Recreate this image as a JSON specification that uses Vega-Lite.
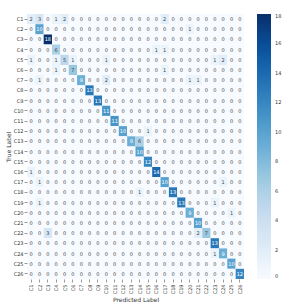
{
"$schema": "https://vega.github.io/schema/vega-lite/v6.json",
"width": 217, "height": 265,
"autosize": {"type": "none"},
"padding": {"left": 27, "top": 14, "right": 45, "bottom": 29},
"background": "white",
"config": {"font": "DejaVu Sans", "view": {"stroke": null}},
"data": {"values": [
{"t":"C1","p":"C1","v":2},{"t":"C1","p":"C2","v":3},{"t":"C1","p":"C3","v":0},{"t":"C1","p":"C4","v":1},{"t":"C1","p":"C5","v":2},{"t":"C1","p":"C6","v":0},{"t":"C1","p":"C7","v":0},{"t":"C1","p":"C8","v":0},{"t":"C1","p":"C9","v":0},{"t":"C1","p":"C10","v":0},{"t":"C1","p":"C11","v":0},{"t":"C1","p":"C12","v":0},{"t":"C1","p":"C13","v":0},{"t":"C1","p":"C14","v":0},{"t":"C1","p":"C15","v":0},{"t":"C1","p":"C16","v":0},{"t":"C1","p":"C17","v":2},{"t":"C1","p":"C18","v":0},{"t":"C1","p":"C19","v":0},{"t":"C1","p":"C20","v":0},{"t":"C1","p":"C21","v":0},{"t":"C1","p":"C22","v":0},{"t":"C1","p":"C23","v":0},{"t":"C1","p":"C24","v":0},{"t":"C1","p":"C25","v":0},{"t":"C1","p":"C26","v":0},
{"t":"C2","p":"C1","v":0},{"t":"C2","p":"C2","v":10},{"t":"C2","p":"C3","v":0},{"t":"C2","p":"C4","v":0},{"t":"C2","p":"C5","v":0},{"t":"C2","p":"C6","v":0},{"t":"C2","p":"C7","v":0},{"t":"C2","p":"C8","v":0},{"t":"C2","p":"C9","v":0},{"t":"C2","p":"C10","v":0},{"t":"C2","p":"C11","v":0},{"t":"C2","p":"C12","v":0},{"t":"C2","p":"C13","v":0},{"t":"C2","p":"C14","v":0},{"t":"C2","p":"C15","v":0},{"t":"C2","p":"C16","v":0},{"t":"C2","p":"C17","v":0},{"t":"C2","p":"C18","v":0},{"t":"C2","p":"C19","v":0},{"t":"C2","p":"C20","v":1},{"t":"C2","p":"C21","v":0},{"t":"C2","p":"C22","v":0},{"t":"C2","p":"C23","v":0},{"t":"C2","p":"C24","v":0},{"t":"C2","p":"C25","v":0},{"t":"C2","p":"C26","v":0},
{"t":"C3","p":"C1","v":0},{"t":"C3","p":"C2","v":0},{"t":"C3","p":"C3","v":18},{"t":"C3","p":"C4","v":0},{"t":"C3","p":"C5","v":0},{"t":"C3","p":"C6","v":0},{"t":"C3","p":"C7","v":0},{"t":"C3","p":"C8","v":0},{"t":"C3","p":"C9","v":0},{"t":"C3","p":"C10","v":0},{"t":"C3","p":"C11","v":0},{"t":"C3","p":"C12","v":0},{"t":"C3","p":"C13","v":0},{"t":"C3","p":"C14","v":0},{"t":"C3","p":"C15","v":0},{"t":"C3","p":"C16","v":0},{"t":"C3","p":"C17","v":0},{"t":"C3","p":"C18","v":0},{"t":"C3","p":"C19","v":0},{"t":"C3","p":"C20","v":0},{"t":"C3","p":"C21","v":0},{"t":"C3","p":"C22","v":0},{"t":"C3","p":"C23","v":0},{"t":"C3","p":"C24","v":0},{"t":"C3","p":"C25","v":0},{"t":"C3","p":"C26","v":0},
{"t":"C4","p":"C1","v":0},{"t":"C4","p":"C2","v":0},{"t":"C4","p":"C3","v":0},{"t":"C4","p":"C4","v":6},{"t":"C4","p":"C5","v":0},{"t":"C4","p":"C6","v":0},{"t":"C4","p":"C7","v":0},{"t":"C4","p":"C8","v":0},{"t":"C4","p":"C9","v":0},{"t":"C4","p":"C10","v":0},{"t":"C4","p":"C11","v":0},{"t":"C4","p":"C12","v":0},{"t":"C4","p":"C13","v":0},{"t":"C4","p":"C14","v":0},{"t":"C4","p":"C15","v":0},{"t":"C4","p":"C16","v":1},{"t":"C4","p":"C17","v":1},{"t":"C4","p":"C18","v":0},{"t":"C4","p":"C19","v":0},{"t":"C4","p":"C20","v":0},{"t":"C4","p":"C21","v":0},{"t":"C4","p":"C22","v":0},{"t":"C4","p":"C23","v":0},{"t":"C4","p":"C24","v":0},{"t":"C4","p":"C25","v":0},{"t":"C4","p":"C26","v":0},
{"t":"C5","p":"C1","v":1},{"t":"C5","p":"C2","v":0},{"t":"C5","p":"C3","v":0},{"t":"C5","p":"C4","v":1},{"t":"C5","p":"C5","v":5},{"t":"C5","p":"C6","v":1},{"t":"C5","p":"C7","v":0},{"t":"C5","p":"C8","v":0},{"t":"C5","p":"C9","v":0},{"t":"C5","p":"C10","v":1},{"t":"C5","p":"C11","v":0},{"t":"C5","p":"C12","v":0},{"t":"C5","p":"C13","v":0},{"t":"C5","p":"C14","v":0},{"t":"C5","p":"C15","v":0},{"t":"C5","p":"C16","v":0},{"t":"C5","p":"C17","v":0},{"t":"C5","p":"C18","v":0},{"t":"C5","p":"C19","v":0},{"t":"C5","p":"C20","v":0},{"t":"C5","p":"C21","v":0},{"t":"C5","p":"C22","v":0},{"t":"C5","p":"C23","v":1},{"t":"C5","p":"C24","v":2},{"t":"C5","p":"C25","v":0},{"t":"C5","p":"C26","v":0},
{"t":"C6","p":"C1","v":0},{"t":"C6","p":"C2","v":0},{"t":"C6","p":"C3","v":0},{"t":"C6","p":"C4","v":1},{"t":"C6","p":"C5","v":0},{"t":"C6","p":"C6","v":7},{"t":"C6","p":"C7","v":0},{"t":"C6","p":"C8","v":0},{"t":"C6","p":"C9","v":0},{"t":"C6","p":"C10","v":0},{"t":"C6","p":"C11","v":0},{"t":"C6","p":"C12","v":0},{"t":"C6","p":"C13","v":0},{"t":"C6","p":"C14","v":0},{"t":"C6","p":"C15","v":0},{"t":"C6","p":"C16","v":0},{"t":"C6","p":"C17","v":1},{"t":"C6","p":"C18","v":0},{"t":"C6","p":"C19","v":0},{"t":"C6","p":"C20","v":0},{"t":"C6","p":"C21","v":0},{"t":"C6","p":"C22","v":0},{"t":"C6","p":"C23","v":0},{"t":"C6","p":"C24","v":0},{"t":"C6","p":"C25","v":0},{"t":"C6","p":"C26","v":0},
{"t":"C7","p":"C1","v":0},{"t":"C7","p":"C2","v":1},{"t":"C7","p":"C3","v":0},{"t":"C7","p":"C4","v":0},{"t":"C7","p":"C5","v":0},{"t":"C7","p":"C6","v":0},{"t":"C7","p":"C7","v":9},{"t":"C7","p":"C8","v":0},{"t":"C7","p":"C9","v":0},{"t":"C7","p":"C10","v":2},{"t":"C7","p":"C11","v":0},{"t":"C7","p":"C12","v":0},{"t":"C7","p":"C13","v":0},{"t":"C7","p":"C14","v":0},{"t":"C7","p":"C15","v":0},{"t":"C7","p":"C16","v":0},{"t":"C7","p":"C17","v":0},{"t":"C7","p":"C18","v":0},{"t":"C7","p":"C19","v":0},{"t":"C7","p":"C20","v":1},{"t":"C7","p":"C21","v":1},{"t":"C7","p":"C22","v":0},{"t":"C7","p":"C23","v":0},{"t":"C7","p":"C24","v":0},{"t":"C7","p":"C25","v":0},{"t":"C7","p":"C26","v":0},
{"t":"C8","p":"C1","v":0},{"t":"C8","p":"C2","v":0},{"t":"C8","p":"C3","v":0},{"t":"C8","p":"C4","v":0},{"t":"C8","p":"C5","v":0},{"t":"C8","p":"C6","v":0},{"t":"C8","p":"C7","v":0},{"t":"C8","p":"C8","v":13},{"t":"C8","p":"C9","v":0},{"t":"C8","p":"C10","v":0},{"t":"C8","p":"C11","v":0},{"t":"C8","p":"C12","v":0},{"t":"C8","p":"C13","v":0},{"t":"C8","p":"C14","v":0},{"t":"C8","p":"C15","v":0},{"t":"C8","p":"C16","v":0},{"t":"C8","p":"C17","v":0},{"t":"C8","p":"C18","v":0},{"t":"C8","p":"C19","v":0},{"t":"C8","p":"C20","v":0},{"t":"C8","p":"C21","v":0},{"t":"C8","p":"C22","v":0},{"t":"C8","p":"C23","v":0},{"t":"C8","p":"C24","v":0},{"t":"C8","p":"C25","v":0},{"t":"C8","p":"C26","v":0},
{"t":"C9","p":"C1","v":0},{"t":"C9","p":"C2","v":0},{"t":"C9","p":"C3","v":0},{"t":"C9","p":"C4","v":0},{"t":"C9","p":"C5","v":0},{"t":"C9","p":"C6","v":0},{"t":"C9","p":"C7","v":0},{"t":"C9","p":"C8","v":0},{"t":"C9","p":"C9","v":13},{"t":"C9","p":"C10","v":0},{"t":"C9","p":"C11","v":0},{"t":"C9","p":"C12","v":0},{"t":"C9","p":"C13","v":0},{"t":"C9","p":"C14","v":0},{"t":"C9","p":"C15","v":0},{"t":"C9","p":"C16","v":0},{"t":"C9","p":"C17","v":0},{"t":"C9","p":"C18","v":0},{"t":"C9","p":"C19","v":0},{"t":"C9","p":"C20","v":0},{"t":"C9","p":"C21","v":0},{"t":"C9","p":"C22","v":0},{"t":"C9","p":"C23","v":0},{"t":"C9","p":"C24","v":0},{"t":"C9","p":"C25","v":0},{"t":"C9","p":"C26","v":0},
{"t":"C10","p":"C1","v":0},{"t":"C10","p":"C2","v":0},{"t":"C10","p":"C3","v":0},{"t":"C10","p":"C4","v":0},{"t":"C10","p":"C5","v":0},{"t":"C10","p":"C6","v":0},{"t":"C10","p":"C7","v":0},{"t":"C10","p":"C8","v":0},{"t":"C10","p":"C9","v":0},{"t":"C10","p":"C10","v":11},{"t":"C10","p":"C11","v":0},{"t":"C10","p":"C12","v":0},{"t":"C10","p":"C13","v":0},{"t":"C10","p":"C14","v":0},{"t":"C10","p":"C15","v":0},{"t":"C10","p":"C16","v":0},{"t":"C10","p":"C17","v":0},{"t":"C10","p":"C18","v":0},{"t":"C10","p":"C19","v":0},{"t":"C10","p":"C20","v":0},{"t":"C10","p":"C21","v":0},{"t":"C10","p":"C22","v":0},{"t":"C10","p":"C23","v":0},{"t":"C10","p":"C24","v":0},{"t":"C10","p":"C25","v":0},{"t":"C10","p":"C26","v":0},
{"t":"C11","p":"C1","v":0},{"t":"C11","p":"C2","v":0},{"t":"C11","p":"C3","v":0},{"t":"C11","p":"C4","v":0},{"t":"C11","p":"C5","v":0},{"t":"C11","p":"C6","v":0},{"t":"C11","p":"C7","v":0},{"t":"C11","p":"C8","v":0},{"t":"C11","p":"C9","v":0},{"t":"C11","p":"C10","v":0},{"t":"C11","p":"C11","v":11},{"t":"C11","p":"C12","v":0},{"t":"C11","p":"C13","v":0},{"t":"C11","p":"C14","v":0},{"t":"C11","p":"C15","v":0},{"t":"C11","p":"C16","v":0},{"t":"C11","p":"C17","v":0},{"t":"C11","p":"C18","v":0},{"t":"C11","p":"C19","v":0},{"t":"C11","p":"C20","v":0},{"t":"C11","p":"C21","v":0},{"t":"C11","p":"C22","v":0},{"t":"C11","p":"C23","v":0},{"t":"C11","p":"C24","v":0},{"t":"C11","p":"C25","v":0},{"t":"C11","p":"C26","v":0},
{"t":"C12","p":"C1","v":0},{"t":"C12","p":"C2","v":0},{"t":"C12","p":"C3","v":0},{"t":"C12","p":"C4","v":0},{"t":"C12","p":"C5","v":0},{"t":"C12","p":"C6","v":0},{"t":"C12","p":"C7","v":0},{"t":"C12","p":"C8","v":0},{"t":"C12","p":"C9","v":0},{"t":"C12","p":"C10","v":0},{"t":"C12","p":"C11","v":0},{"t":"C12","p":"C12","v":10},{"t":"C12","p":"C13","v":0},{"t":"C12","p":"C14","v":0},{"t":"C12","p":"C15","v":1},{"t":"C12","p":"C16","v":0},{"t":"C12","p":"C17","v":0},{"t":"C12","p":"C18","v":0},{"t":"C12","p":"C19","v":0},{"t":"C12","p":"C20","v":0},{"t":"C12","p":"C21","v":0},{"t":"C12","p":"C22","v":0},{"t":"C12","p":"C23","v":0},{"t":"C12","p":"C24","v":0},{"t":"C12","p":"C25","v":0},{"t":"C12","p":"C26","v":0},
{"t":"C13","p":"C1","v":0},{"t":"C13","p":"C2","v":0},{"t":"C13","p":"C3","v":0},{"t":"C13","p":"C4","v":0},{"t":"C13","p":"C5","v":0},{"t":"C13","p":"C6","v":0},{"t":"C13","p":"C7","v":0},{"t":"C13","p":"C8","v":0},{"t":"C13","p":"C9","v":0},{"t":"C13","p":"C10","v":0},{"t":"C13","p":"C11","v":0},{"t":"C13","p":"C12","v":0},{"t":"C13","p":"C13","v":9},{"t":"C13","p":"C14","v":6},{"t":"C13","p":"C15","v":0},{"t":"C13","p":"C16","v":0},{"t":"C13","p":"C17","v":0},{"t":"C13","p":"C18","v":0},{"t":"C13","p":"C19","v":0},{"t":"C13","p":"C20","v":0},{"t":"C13","p":"C21","v":0},{"t":"C13","p":"C22","v":0},{"t":"C13","p":"C23","v":0},{"t":"C13","p":"C24","v":0},{"t":"C13","p":"C25","v":0},{"t":"C13","p":"C26","v":0},
{"t":"C14","p":"C1","v":0},{"t":"C14","p":"C2","v":0},{"t":"C14","p":"C3","v":0},{"t":"C14","p":"C4","v":0},{"t":"C14","p":"C5","v":0},{"t":"C14","p":"C6","v":0},{"t":"C14","p":"C7","v":0},{"t":"C14","p":"C8","v":0},{"t":"C14","p":"C9","v":0},{"t":"C14","p":"C10","v":0},{"t":"C14","p":"C11","v":0},{"t":"C14","p":"C12","v":0},{"t":"C14","p":"C13","v":0},{"t":"C14","p":"C14","v":10},{"t":"C14","p":"C15","v":0},{"t":"C14","p":"C16","v":0},{"t":"C14","p":"C17","v":0},{"t":"C14","p":"C18","v":0},{"t":"C14","p":"C19","v":0},{"t":"C14","p":"C20","v":0},{"t":"C14","p":"C21","v":0},{"t":"C14","p":"C22","v":0},{"t":"C14","p":"C23","v":0},{"t":"C14","p":"C24","v":0},{"t":"C14","p":"C25","v":0},{"t":"C14","p":"C26","v":0},
{"t":"C15","p":"C1","v":0},{"t":"C15","p":"C2","v":0},{"t":"C15","p":"C3","v":0},{"t":"C15","p":"C4","v":0},{"t":"C15","p":"C5","v":0},{"t":"C15","p":"C6","v":0},{"t":"C15","p":"C7","v":0},{"t":"C15","p":"C8","v":0},{"t":"C15","p":"C9","v":0},{"t":"C15","p":"C10","v":0},{"t":"C15","p":"C11","v":0},{"t":"C15","p":"C12","v":0},{"t":"C15","p":"C13","v":0},{"t":"C15","p":"C14","v":0},{"t":"C15","p":"C15","v":12},{"t":"C15","p":"C16","v":0},{"t":"C15","p":"C17","v":0},{"t":"C15","p":"C18","v":0},{"t":"C15","p":"C19","v":0},{"t":"C15","p":"C20","v":0},{"t":"C15","p":"C21","v":0},{"t":"C15","p":"C22","v":0},{"t":"C15","p":"C23","v":0},{"t":"C15","p":"C24","v":0},{"t":"C15","p":"C25","v":0},{"t":"C15","p":"C26","v":0},
{"t":"C16","p":"C1","v":1},{"t":"C16","p":"C2","v":0},{"t":"C16","p":"C3","v":0},{"t":"C16","p":"C4","v":0},{"t":"C16","p":"C5","v":0},{"t":"C16","p":"C6","v":0},{"t":"C16","p":"C7","v":0},{"t":"C16","p":"C8","v":0},{"t":"C16","p":"C9","v":0},{"t":"C16","p":"C10","v":0},{"t":"C16","p":"C11","v":0},{"t":"C16","p":"C12","v":0},{"t":"C16","p":"C13","v":0},{"t":"C16","p":"C14","v":0},{"t":"C16","p":"C15","v":0},{"t":"C16","p":"C16","v":14},{"t":"C16","p":"C17","v":0},{"t":"C16","p":"C18","v":0},{"t":"C16","p":"C19","v":0},{"t":"C16","p":"C20","v":0},{"t":"C16","p":"C21","v":0},{"t":"C16","p":"C22","v":0},{"t":"C16","p":"C23","v":0},{"t":"C16","p":"C24","v":0},{"t":"C16","p":"C25","v":0},{"t":"C16","p":"C26","v":0},
{"t":"C17","p":"C1","v":0},{"t":"C17","p":"C2","v":1},{"t":"C17","p":"C3","v":0},{"t":"C17","p":"C4","v":0},{"t":"C17","p":"C5","v":0},{"t":"C17","p":"C6","v":0},{"t":"C17","p":"C7","v":0},{"t":"C17","p":"C8","v":0},{"t":"C17","p":"C9","v":0},{"t":"C17","p":"C10","v":0},{"t":"C17","p":"C11","v":0},{"t":"C17","p":"C12","v":0},{"t":"C17","p":"C13","v":0},{"t":"C17","p":"C14","v":0},{"t":"C17","p":"C15","v":0},{"t":"C17","p":"C16","v":0},{"t":"C17","p":"C17","v":10},{"t":"C17","p":"C18","v":0},{"t":"C17","p":"C19","v":0},{"t":"C17","p":"C20","v":0},{"t":"C17","p":"C21","v":0},{"t":"C17","p":"C22","v":0},{"t":"C17","p":"C23","v":0},{"t":"C17","p":"C24","v":1},{"t":"C17","p":"C25","v":0},{"t":"C17","p":"C26","v":0},
{"t":"C18","p":"C1","v":0},{"t":"C18","p":"C2","v":0},{"t":"C18","p":"C3","v":0},{"t":"C18","p":"C4","v":0},{"t":"C18","p":"C5","v":0},{"t":"C18","p":"C6","v":0},{"t":"C18","p":"C7","v":0},{"t":"C18","p":"C8","v":0},{"t":"C18","p":"C9","v":0},{"t":"C18","p":"C10","v":0},{"t":"C18","p":"C11","v":0},{"t":"C18","p":"C12","v":0},{"t":"C18","p":"C13","v":0},{"t":"C18","p":"C14","v":1},{"t":"C18","p":"C15","v":0},{"t":"C18","p":"C16","v":0},{"t":"C18","p":"C17","v":0},{"t":"C18","p":"C18","v":13},{"t":"C18","p":"C19","v":0},{"t":"C18","p":"C20","v":0},{"t":"C18","p":"C21","v":0},{"t":"C18","p":"C22","v":0},{"t":"C18","p":"C23","v":0},{"t":"C18","p":"C24","v":0},{"t":"C18","p":"C25","v":0},{"t":"C18","p":"C26","v":0},
{"t":"C19","p":"C1","v":0},{"t":"C19","p":"C2","v":1},{"t":"C19","p":"C3","v":0},{"t":"C19","p":"C4","v":0},{"t":"C19","p":"C5","v":0},{"t":"C19","p":"C6","v":0},{"t":"C19","p":"C7","v":0},{"t":"C19","p":"C8","v":0},{"t":"C19","p":"C9","v":0},{"t":"C19","p":"C10","v":0},{"t":"C19","p":"C11","v":0},{"t":"C19","p":"C12","v":0},{"t":"C19","p":"C13","v":0},{"t":"C19","p":"C14","v":0},{"t":"C19","p":"C15","v":0},{"t":"C19","p":"C16","v":0},{"t":"C19","p":"C17","v":0},{"t":"C19","p":"C18","v":0},{"t":"C19","p":"C19","v":13},{"t":"C19","p":"C20","v":0},{"t":"C19","p":"C21","v":0},{"t":"C19","p":"C22","v":0},{"t":"C19","p":"C23","v":1},{"t":"C19","p":"C24","v":0},{"t":"C19","p":"C25","v":0},{"t":"C19","p":"C26","v":0},
{"t":"C20","p":"C1","v":0},{"t":"C20","p":"C2","v":0},{"t":"C20","p":"C3","v":0},{"t":"C20","p":"C4","v":0},{"t":"C20","p":"C5","v":0},{"t":"C20","p":"C6","v":0},{"t":"C20","p":"C7","v":0},{"t":"C20","p":"C8","v":0},{"t":"C20","p":"C9","v":0},{"t":"C20","p":"C10","v":0},{"t":"C20","p":"C11","v":0},{"t":"C20","p":"C12","v":0},{"t":"C20","p":"C13","v":0},{"t":"C20","p":"C14","v":0},{"t":"C20","p":"C15","v":0},{"t":"C20","p":"C16","v":0},{"t":"C20","p":"C17","v":0},{"t":"C20","p":"C18","v":0},{"t":"C20","p":"C19","v":0},{"t":"C20","p":"C20","v":9},{"t":"C20","p":"C21","v":0},{"t":"C20","p":"C22","v":0},{"t":"C20","p":"C23","v":0},{"t":"C20","p":"C24","v":0},{"t":"C20","p":"C25","v":1},{"t":"C20","p":"C26","v":0},
{"t":"C21","p":"C1","v":0},{"t":"C21","p":"C2","v":0},{"t":"C21","p":"C3","v":0},{"t":"C21","p":"C4","v":0},{"t":"C21","p":"C5","v":0},{"t":"C21","p":"C6","v":0},{"t":"C21","p":"C7","v":0},{"t":"C21","p":"C8","v":0},{"t":"C21","p":"C9","v":0},{"t":"C21","p":"C10","v":0},{"t":"C21","p":"C11","v":0},{"t":"C21","p":"C12","v":0},{"t":"C21","p":"C13","v":0},{"t":"C21","p":"C14","v":0},{"t":"C21","p":"C15","v":0},{"t":"C21","p":"C16","v":0},{"t":"C21","p":"C17","v":0},{"t":"C21","p":"C18","v":0},{"t":"C21","p":"C19","v":0},{"t":"C21","p":"C20","v":0},{"t":"C21","p":"C21","v":10},{"t":"C21","p":"C22","v":0},{"t":"C21","p":"C23","v":0},{"t":"C21","p":"C24","v":0},{"t":"C21","p":"C25","v":0},{"t":"C21","p":"C26","v":0},
{"t":"C22","p":"C1","v":0},{"t":"C22","p":"C2","v":0},{"t":"C22","p":"C3","v":3},{"t":"C22","p":"C4","v":0},{"t":"C22","p":"C5","v":0},{"t":"C22","p":"C6","v":0},{"t":"C22","p":"C7","v":0},{"t":"C22","p":"C8","v":0},{"t":"C22","p":"C9","v":0},{"t":"C22","p":"C10","v":0},{"t":"C22","p":"C11","v":0},{"t":"C22","p":"C12","v":0},{"t":"C22","p":"C13","v":0},{"t":"C22","p":"C14","v":0},{"t":"C22","p":"C15","v":0},{"t":"C22","p":"C16","v":0},{"t":"C22","p":"C17","v":0},{"t":"C22","p":"C18","v":0},{"t":"C22","p":"C19","v":0},{"t":"C22","p":"C20","v":0},{"t":"C22","p":"C21","v":2},{"t":"C22","p":"C22","v":7},{"t":"C22","p":"C23","v":0},{"t":"C22","p":"C24","v":0},{"t":"C22","p":"C25","v":0},{"t":"C22","p":"C26","v":0},
{"t":"C23","p":"C1","v":0},{"t":"C23","p":"C2","v":0},{"t":"C23","p":"C3","v":0},{"t":"C23","p":"C4","v":0},{"t":"C23","p":"C5","v":0},{"t":"C23","p":"C6","v":0},{"t":"C23","p":"C7","v":0},{"t":"C23","p":"C8","v":0},{"t":"C23","p":"C9","v":0},{"t":"C23","p":"C10","v":0},{"t":"C23","p":"C11","v":0},{"t":"C23","p":"C12","v":0},{"t":"C23","p":"C13","v":0},{"t":"C23","p":"C14","v":0},{"t":"C23","p":"C15","v":0},{"t":"C23","p":"C16","v":0},{"t":"C23","p":"C17","v":0},{"t":"C23","p":"C18","v":0},{"t":"C23","p":"C19","v":0},{"t":"C23","p":"C20","v":0},{"t":"C23","p":"C21","v":0},{"t":"C23","p":"C22","v":0},{"t":"C23","p":"C23","v":13},{"t":"C23","p":"C24","v":0},{"t":"C23","p":"C25","v":0},{"t":"C23","p":"C26","v":0},
{"t":"C24","p":"C1","v":0},{"t":"C24","p":"C2","v":0},{"t":"C24","p":"C3","v":0},{"t":"C24","p":"C4","v":0},{"t":"C24","p":"C5","v":0},{"t":"C24","p":"C6","v":0},{"t":"C24","p":"C7","v":0},{"t":"C24","p":"C8","v":0},{"t":"C24","p":"C9","v":0},{"t":"C24","p":"C10","v":0},{"t":"C24","p":"C11","v":0},{"t":"C24","p":"C12","v":0},{"t":"C24","p":"C13","v":0},{"t":"C24","p":"C14","v":0},{"t":"C24","p":"C15","v":0},{"t":"C24","p":"C16","v":0},{"t":"C24","p":"C17","v":0},{"t":"C24","p":"C18","v":0},{"t":"C24","p":"C19","v":0},{"t":"C24","p":"C20","v":0},{"t":"C24","p":"C21","v":0},{"t":"C24","p":"C22","v":0},{"t":"C24","p":"C23","v":1},{"t":"C24","p":"C24","v":9},{"t":"C24","p":"C25","v":0},{"t":"C24","p":"C26","v":0},
{"t":"C25","p":"C1","v":0},{"t":"C25","p":"C2","v":0},{"t":"C25","p":"C3","v":0},{"t":"C25","p":"C4","v":0},{"t":"C25","p":"C5","v":0},{"t":"C25","p":"C6","v":0},{"t":"C25","p":"C7","v":0},{"t":"C25","p":"C8","v":0},{"t":"C25","p":"C9","v":0},{"t":"C25","p":"C10","v":0},{"t":"C25","p":"C11","v":0},{"t":"C25","p":"C12","v":0},{"t":"C25","p":"C13","v":0},{"t":"C25","p":"C14","v":0},{"t":"C25","p":"C15","v":0},{"t":"C25","p":"C16","v":0},{"t":"C25","p":"C17","v":0},{"t":"C25","p":"C18","v":0},{"t":"C25","p":"C19","v":0},{"t":"C25","p":"C20","v":0},{"t":"C25","p":"C21","v":0},{"t":"C25","p":"C22","v":0},{"t":"C25","p":"C23","v":0},{"t":"C25","p":"C24","v":0},{"t":"C25","p":"C25","v":10},{"t":"C25","p":"C26","v":0},
{"t":"C26","p":"C1","v":0},{"t":"C26","p":"C2","v":0},{"t":"C26","p":"C3","v":0},{"t":"C26","p":"C4","v":0},{"t":"C26","p":"C5","v":0},{"t":"C26","p":"C6","v":0},{"t":"C26","p":"C7","v":0},{"t":"C26","p":"C8","v":0},{"t":"C26","p":"C9","v":0},{"t":"C26","p":"C10","v":0},{"t":"C26","p":"C11","v":0},{"t":"C26","p":"C12","v":0},{"t":"C26","p":"C13","v":0},{"t":"C26","p":"C14","v":0},{"t":"C26","p":"C15","v":0},{"t":"C26","p":"C16","v":0},{"t":"C26","p":"C17","v":0},{"t":"C26","p":"C18","v":0},{"t":"C26","p":"C19","v":0},{"t":"C26","p":"C20","v":0},{"t":"C26","p":"C21","v":0},{"t":"C26","p":"C22","v":0},{"t":"C26","p":"C23","v":0},{"t":"C26","p":"C24","v":0},{"t":"C26","p":"C25","v":0},{"t":"C26","p":"C26","v":12}
]},
"encoding": {
  "x": {"field": "p", "type": "nominal", "title": "Predicted Label",
    "sort": ["C1","C2","C3","C4","C5","C6","C7","C8","C9","C10","C11","C12","C13","C14","C15","C16","C17","C18","C19","C20","C21","C22","C23","C24","C25","C26"],
    "axis": {"labelAngle": -90, "labelFontSize": 5, "labelColor": "#333", "tickSize": 3, "tickColor": "#555", "tickWidth": 0.6, "domain": false, "labelPadding": 2, "titleFontSize": 6, "titleFontWeight": "normal", "titleColor": "#333", "titlePadding": 3}},
  "y": {"field": "t", "type": "nominal", "title": "True Label",
    "sort": ["C1","C2","C3","C4","C5","C6","C7","C8","C9","C10","C11","C12","C13","C14","C15","C16","C17","C18","C19","C20","C21","C22","C23","C24","C25","C26"],
    "axis": {"labelFontSize": 5, "labelColor": "#333", "tickSize": 3, "tickColor": "#555", "tickWidth": 0.6, "domain": false, "labelPadding": 1, "titleFontSize": 6, "titleFontWeight": "normal", "titleColor": "#333", "titlePadding": 2}}
},
"layer": [
  {"mark": {"type": "rect"},
   "encoding": {"color": {"field": "v", "type": "quantitative",
     "scale": {"domain": [0, 2.25, 4.5, 6.75, 9, 11.25, 13.5, 15.75, 18], "range": ["#f7fbff","#deebf7","#c6dbef","#9ecae1","#6baed6","#4292c6","#2171b5","#08519c","#08306b"]},
     "legend": {"title": null, "orient": "right", "offset": 13, "gradientLength": 265, "gradientThickness": 14, "values": [0,2,4,6,8,10,12,14,16,18], "labelFontSize": 5, "labelColor": "#333", "labelOverlap": false, "gradientStrokeWidth": 0, "labelOffset": 4}}}},
  {"mark": {"type": "text", "fontSize": 5},
   "encoding": {"text": {"field": "v", "type": "quantitative"},
     "color": {"condition": {"test": "datum.v >= 9", "value": "white"}, "value": "#444"}}}
]
}
